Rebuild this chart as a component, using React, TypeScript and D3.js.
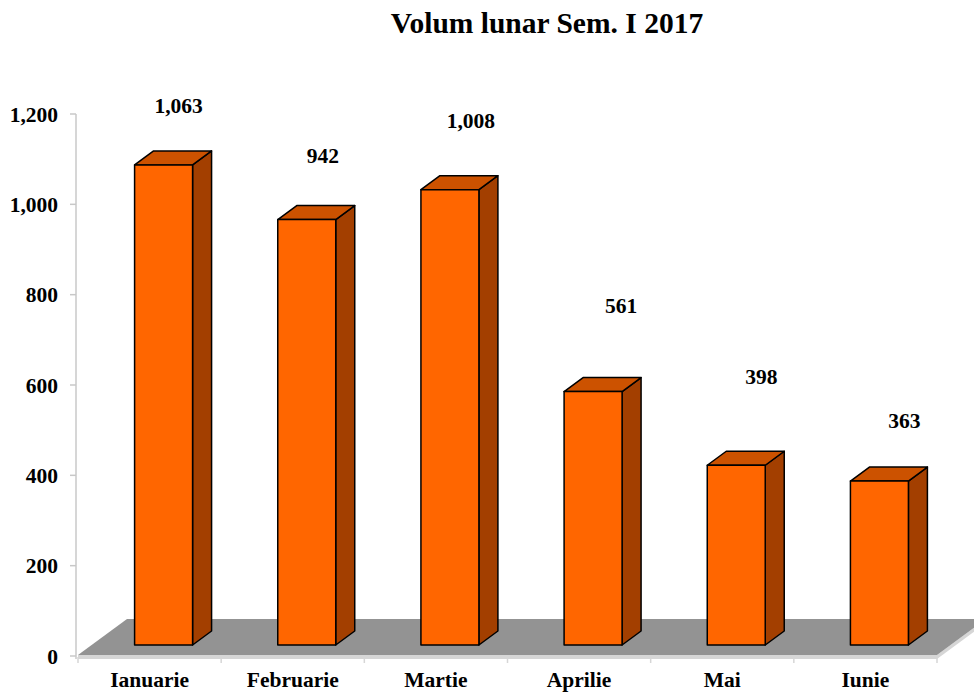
import React from "react";
import * as d3 from "d3";

const title = "Volum lunar Sem. I 2017";
const categories = ["Ianuarie", "Februarie", "Martie", "Aprilie", "Mai", "Iunie"];
const values = [1063, 942, 1008, 561, 398, 363];
const yTicks = [0, 200, 400, 600, 800, 1000, 1200];
// manual nudges of the data labels (px, relative to the bar's top front edge)
const labelDx = [15, 16, 21, 28, 25, 25];
const labelDy = [52, 57, 62, 79, 81, 53];

const W = 974;
const H = 693;
const FONT = "'Liberation Serif', 'Times New Roman', serif";

export default function App() {
  const x = d3.scaleBand<string>().domain(categories).range([78, 937]).padding(0);
  const y = d3.scaleLinear().domain([0, 1200]).range([656, 114]);
  const fmt = d3.format(",");

  // oblique 3D offsets
  const floorDx = 49, floorDy = -36;
  const planeDx = 14, planeDy = -11;
  const depthDx = 19, depthDy = -14;
  const barW = x.bandwidth() * 0.405;

  const x0 = x.range()[0];
  const x1 = x.range()[1];
  const y0 = y(0) - 1;

  const pts = (p: number[][]) => p.map((q) => q.join(",")).join(" ");

  return (
    <svg
      width={W}
      height={H}
      style={{ position: "absolute", left: 0, top: 0, background: "#fff" }}
      fontFamily={FONT}
    >
      <text x={547} y={33} textAnchor="middle" fontSize={29.5} fontWeight="bold" fill="#000">
        {title}
      </text>

      {/* floor */}
      <polygon
        points={pts([[x0, y0], [x1, y0], [x1, y0 + 4], [x0, y0 + 4]])}
        fill="#d6d6d6"
      />
      <polygon
        points={pts([[x1, y0], [x1 + floorDx, y0 + floorDy], [x1 + floorDx, y0 + floorDy + 4], [x1, y0 + 4]])}
        fill="#d6d6d6"
      />
      <polygon
        points={pts([[x0, y0], [x1, y0], [x1 + floorDx, y0 + floorDy], [x0 + floorDx, y0 + floorDy]])}
        fill="#939393"
      />

      {/* y axis */}
      <line x1={76} x2={76} y1={y(1200)} y2={y(0) + 3} stroke="#c8c8c8" strokeWidth={1.5} />
      {yTicks.map((t) => (
        <g key={t}>
          <line x1={70} x2={76} y1={y(t)} y2={y(t)} stroke="#c8c8c8" strokeWidth={1.5} />
          <text
            x={58}
            y={y(t)}
            dy="0.35em"
            textAnchor="end"
            fontSize={21.5}
            fontWeight="bold"
            fill="#000"
          >
            {fmt(t)}
          </text>
        </g>
      ))}

      {/* x axis */}
      <line x1={x0} x2={x1} y1={y0 + 3} y2={y0 + 3} stroke="#d6d6d6" strokeWidth={1.5} />
      {categories.map((c) => (
        <line
          key={"t" + c}
          x1={x(c)!}
          x2={x(c)!}
          y1={y0 + 2}
          y2={y0 + 8}
          stroke="#d6d6d6"
          strokeWidth={1.5}
        />
      ))}
      <line x1={x1} x2={x1} y1={y0 + 2} y2={y0 + 8} stroke="#d6d6d6" strokeWidth={1.5} />

      {categories.map((c) => (
        <text
          key={"l" + c}
          x={x(c)! + x.bandwidth() / 2}
          y={687}
          textAnchor="middle"
          fontSize={21.5}
          fontWeight="bold"
          fill="#000"
        >
          {c}
        </text>
      ))}

      {/* bars */}
      {categories.map((c, i) => {
        const cx = x(c)! + x.bandwidth() / 2 + planeDx;
        const bx0 = cx - barW / 2;
        const bx1 = cx + barW / 2;
        const top = y(values[i]) + planeDy;
        const bot = y(0) + planeDy;
        return (
          <g key={"b" + c} stroke="#000" strokeWidth={1.5} strokeLinejoin="round">
            <polygon
              points={pts([[bx1, top], [bx1 + depthDx, top + depthDy], [bx1 + depthDx, bot + depthDy], [bx1, bot]])}
              fill="#a33f00"
            />
            <polygon
              points={pts([[bx0, top], [bx0 + depthDx, top + depthDy], [bx1 + depthDx, top + depthDy], [bx1, top]])}
              fill="#cc5200"
            />
            <rect x={bx0} y={top} width={bx1 - bx0} height={bot - top} fill="#ff6600" />
          </g>
        );
      })}

      {/* data labels */}
      {categories.map((c, i) => {
        const cx = x(c)! + x.bandwidth() / 2 + planeDx;
        const top = y(values[i]) + planeDy;
        return (
          <text
            key={"v" + c}
            x={cx + labelDx[i]}
            y={top - labelDy[i]}
            textAnchor="middle"
            fontSize={21.5}
            fontWeight="bold"
            fill="#000"
          >
            {fmt(values[i])}
          </text>
        );
      })}
    </svg>
  );
}
